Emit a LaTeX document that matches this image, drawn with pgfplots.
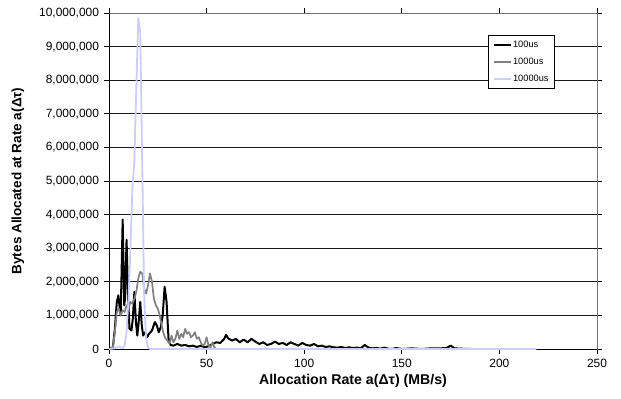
\documentclass[border=0pt]{standalone}
\usepackage{fontspec}
\setmainfont{Liberation Sans}
\usepackage{pgfplots}
\pgfplotsset{compat=1.18}
\begin{document}
\begin{tikzpicture}
\path[use as bounding box] (-109bp,-50bp) rectangle (512bp,349bp);
\begin{axis}[
  at={(0,0)}, anchor=south west,
  scale only axis, width=488bp, height=336bp,
  xmin=0, xmax=250, ymin=0, ymax=10000000,
  xtick={0,50,...,250}, ytick={0,1000000,...,10000000},
  scaled y ticks=false, scaled x ticks=false,
  /pgf/number format/assume math mode=true,
  yticklabel style={/pgf/number format/fixed,/pgf/number format/1000 sep={,}, font=\fontsize{12}{14}\selectfont, xshift=-1.5bp},
  xticklabel style={font=\fontsize{12}{14}\selectfont, yshift=-2bp},
  tick align=outside, major tick length=5bp,
  tick style={black, line width=0.8bp},
  ymajorgrids, major grid style={black!90, line width=0.9bp},
  axis line style={black!55, line width=0.8bp},
  xlabel={\bfseries Allocation Rate a(Δτ) (MB/s)},
  ylabel={\bfseries Bytes Allocated at Rate a(Δτ)},
  xlabel style={at={(axis description cs:0.5,-0.095)}, anchor=center, font=\fontsize{14.2}{16}\selectfont},
  ylabel style={at={(axis description cs:-0.1865,0.5)}, anchor=center, font=\fontsize{13.6}{16}\selectfont},
  legend style={at={(rel axis cs:0.777,0.9345)}, anchor=north west, draw=black, line width=0.8bp,
    font=\fontsize{9.3}{11}\selectfont, inner xsep=4bp, inner ysep=4bp, row sep=6bp,
    nodes={inner sep=1.5bp}},
  legend cell align=left,
  legend image code/.code={\draw[#1] (0bp,0bp) -- (17bp,0bp);},
]
\draw[black, line width=0.8bp] (rel axis cs:0,0) -- (rel axis cs:0,1);
\draw[black, line width=0.8bp] (rel axis cs:0,0) -- (rel axis cs:1,0);
\addplot[black, line width=2bp, line join=round] coordinates {
(0,0) (2,0.05e6) (3,0.6e6) (4,1.4e6) (4.8,1.6e6) (5.5,1.2e6) (6,1.0e6) (7,3.85e6) (7.8,1.3e6) (8.2,1.5e6)
(9,3.25e6) (9.8,1.5e6) (10.5,0.6e6) (11.5,0.55e6) (12.2,0.9e6) (13,1.7e6) (13.8,0.8e6) (14.5,0.4e6)
(15.2,0.8e6) (16,1.4e6) (16.8,0.7e6) (17.5,0.4e6) (18.5,0.5e6) (19.5,0.35e6) (20.5,0.45e6) (22,0.55e6)
(23.5,0.8e6) (24.5,0.7e6) (25.5,0.5e6) (26.5,0.65e6) (27.5,1.0e6) (28.5,1.85e6) (29.5,1.4e6) (30.5,0.3e6)
(31.5,0.12e6) (33,0.1e6) (35,0.15e6) (37,0.1e6) (39,0.12e6) (41,0.08e6) (43,0.1e6) (45,0.06e6) (47,0.1e6)
(49,0.05e6) (51,0.08e6) (53,0.15e6) (55,0.2e6) (57,0.18e6) (59,0.3e6) (60,0.42e6) (61,0.32e6) (63,0.25e6)
(65,0.3e6) (67,0.2e6) (69,0.28e6) (71,0.2e6) (73,0.3e6) (75,0.22e6) (77,0.15e6) (79,0.2e6) (81,0.12e6)
(83,0.15e6) (85,0.22e6) (87,0.15e6) (89,0.18e6) (91,0.12e6) (93,0.2e6) (95,0.15e6) (97,0.1e6) (99,0.18e6)
(101,0.12e6) (103,0.1e6) (105,0.15e6) (107,0.08e6) (109,0.1e6) (111,0.06e6) (113,0.08e6) (115,0.05e6)
(117,0.04e6) (119,0.06e6) (121,0.03e6) (123,0.05e6) (125,0.03e6) (127,0.04e6) (129,0.02e6) (131,0.12e6)
(133,0.04e6) (135,0.02e6) (137,0.03e6) (139,0.01e6) (141,0.04e6) (143,0.01e6) (145,0) (147,0.03e6)
(149,0.01e6) (151,0) (155,0.02e6) (160,0) (165,0.02e6) (170,0.02e6) (173,0.03e6) (175,0.1e6) (177,0.02e6)
(180,0.01e6) (185,0)
};
\addlegendentry{100us}
\addplot[black!50, line width=1.7bp, line join=round] coordinates {
(0,0) (2,0.05e6) (3,0.5e6) (4,1.1e6) (5,1.2e6) (6,1.0e6) (7,1.15e6) (8,1.1e6) (9,1.3e6) (10,1.2e6)
(11,1.4e6) (12,1.35e6) (13,1.5e6) (14,1.7e6) (15,2.1e6) (16,2.3e6) (17,2.25e6) (18,1.8e6) (19,1.65e6)
(20,1.9e6) (21,2.25e6) (22,2.0e6) (23,1.5e6) (24,1.3e6) (25,1.2e6) (26,1.0e6) (27,0.7e6) (28,0.45e6)
(29,0.3e6) (30,0.25e6) (31,0.15e6) (32,0.4e6) (33,0.2e6) (34,0.3e6) (35,0.55e6) (36,0.3e6) (37,0.45e6)
(38,0.35e6) (39,0.6e6) (40,0.45e6) (41,0.5e6) (42,0.35e6) (43,0.4e6) (44,0.5e6) (45,0.3e6) (46,0.35e6)
(47,0.2e6) (48,0.1e6) (49,0.15e6) (50,0.35e6) (51,0.1e6) (52,0.05e6) (53,0.2e6) (54,0.05e6) (55,0)
};
\addlegendentry{1000us}
\addplot[color={rgb,255:red,204;green,204;blue,255}, line width=1.8bp, line join=round] coordinates {
(0,0) (3,0.02e6) (4,0.05e6) (5,0.08e6) (6,0.05e6) (7,0.03e6) (8,0.1e6) (9,0.5e6) (10,1.5e6) (11,3.0e6)
(12,4.8e6) (13,5.6e6) (14,7.8e6) (15,9.85e6) (16,9.45e6) (17,5.6e6) (18,1.6e6) (19,0.3e6) (20,0.05e6)
(21,0) (219,0)
};
\addlegendentry{10000us}
\end{axis}
\end{tikzpicture}
\end{document}
